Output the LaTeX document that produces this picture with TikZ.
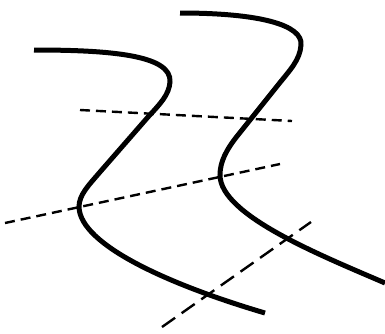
\documentclass[tikz,border=0pt]{standalone}
\begin{document}
\begin{tikzpicture}[x=1pt,y=-1pt,
  curve/.style={line width=5pt},
  shortdash/.style={line width=2.4pt,dash pattern=on 10pt off 6pt},
  longdash/.style={line width=2.4pt,dash pattern=on 16pt off 8pt}]
\useasboundingbox (0,0) rectangle (385,333);
% dashed line end points
\coordinate (a1) at (80,110);
\coordinate (a2) at (292,121);
\coordinate (b1) at (5,223);
\coordinate (b2) at (280,164);
\coordinate (c1) at (162,327);
\coordinate (c2) at (311,222);
\draw[shortdash] (a1) -- (a2);
\draw[shortdash] (b1) -- (b2);
\draw[longdash] (c1) -- (c2);
% left S-curve
\draw[curve] (34,50) .. controls (110,50) and (172,55) .. (170,82)
  .. controls (169,95) and (160,104) .. (148,117)
  -- (100,172)
  .. controls (88,186) and (79,195) .. (79,207)
  .. controls (80,245) and (170,285) .. (265,313);
% right S-curve
\draw[curve] (180,13) .. controls (260,13) and (303,25) .. (301,45)
  .. controls (300,60) and (290,70) .. (278,85)
  -- (238,135)
  .. controls (226,150) and (220,162) .. (220,175)
  .. controls (220,215) and (320,255) .. (385,283);
\end{tikzpicture}
\end{document}
